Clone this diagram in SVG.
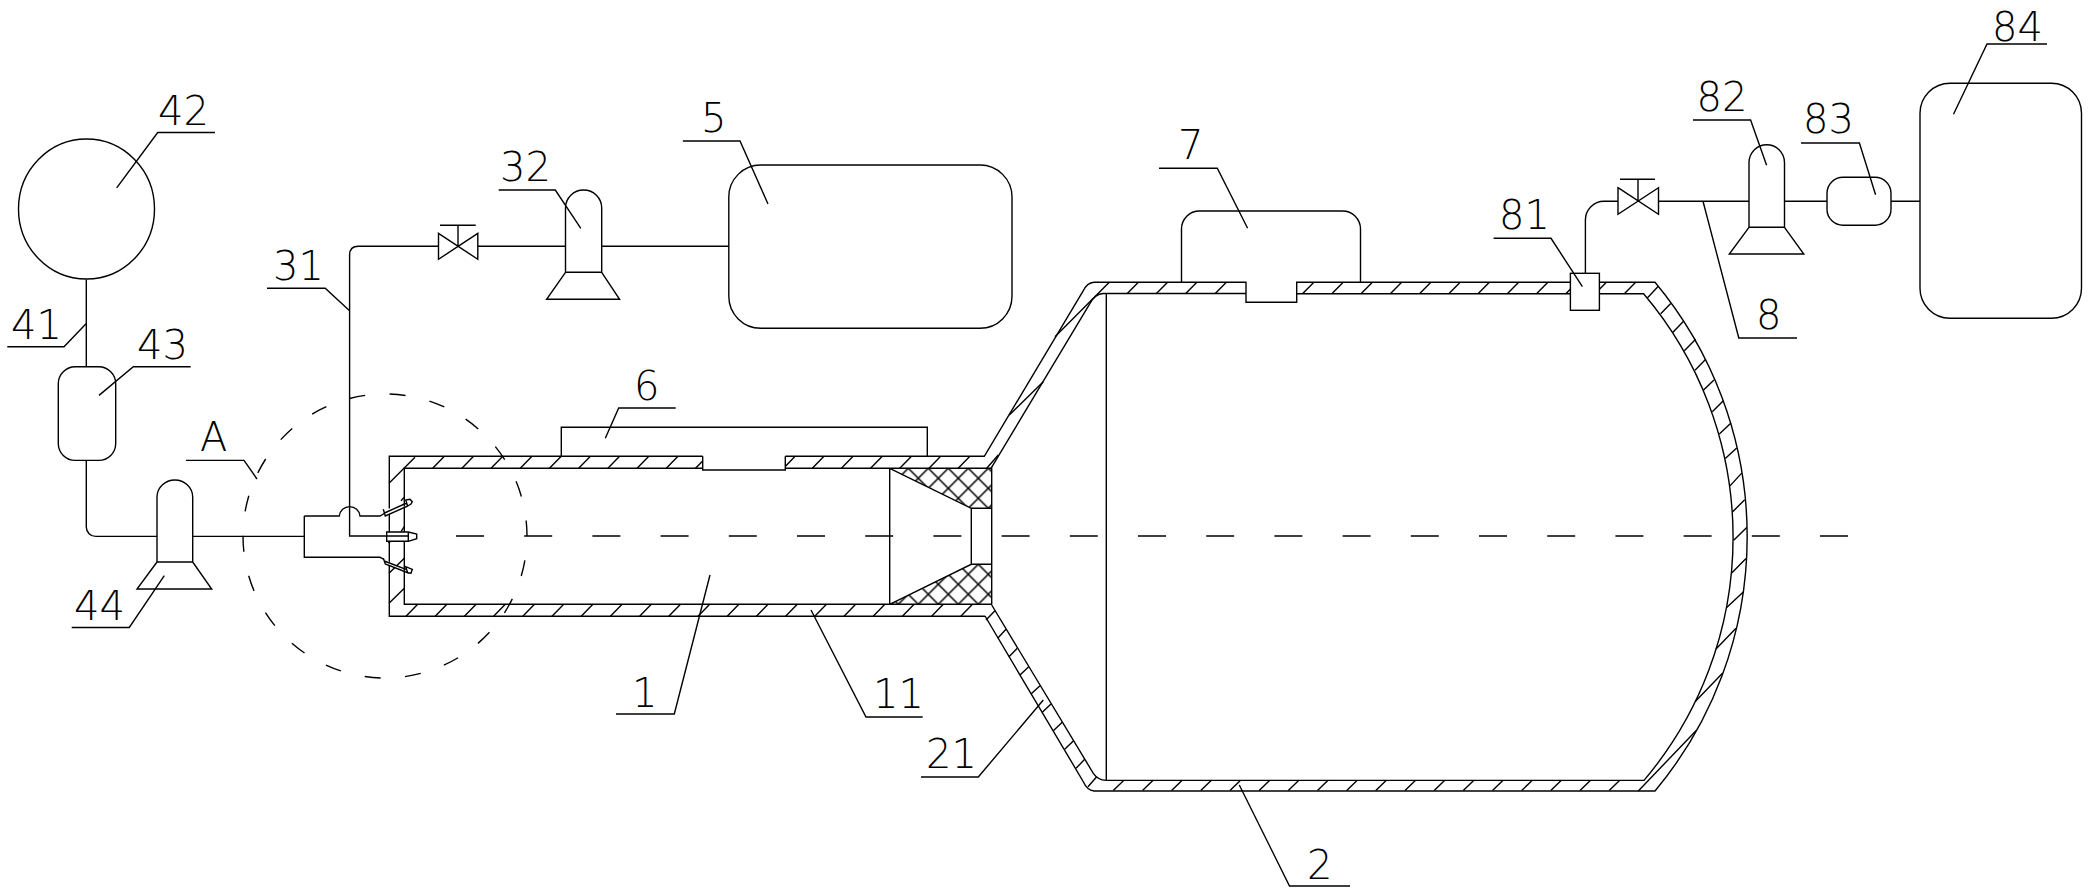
<svg xmlns="http://www.w3.org/2000/svg" width="2091" height="895" viewBox="0 0 2091 895">
<defs>
<style>
.l{fill:none;stroke:#000;stroke-width:1.4}
.n{fill:#fff;stroke:#000;stroke-width:1.4}
.t{font-family:"DejaVu Sans","Liberation Sans",sans-serif;font-weight:200;font-size:40px;fill:#000}
</style>
<pattern id="xa" patternUnits="userSpaceOnUse" x="928.3" y="468.3" width="20" height="20"><path d="M0,0L20,20M20,0L0,20" fill="none" stroke="#000" stroke-width="1.5"/></pattern>
<pattern id="xb" patternUnits="userSpaceOnUse" x="938.3" y="604.3" width="20" height="20"><path d="M0,0L20,20M20,0L0,20" fill="none" stroke="#000" stroke-width="1.5"/></pattern>
</defs>
<rect width="2091" height="895" fill="#fff"/>
<g id="chamber-1">
<path class="l" d="M702.7,456.3H389.3V616.3H985M785.3,456.3H984.3L1083.3,290.7Q1087,283 1094,282.3M702.7,456.3V470H785.3V456.3"/>
<path class="l" d="M702.7,468.3H404.3V604.3H991.7M785.3,468.3H991.7V604.7M889.7,468.3V604.3M971.3,508.3V564.3M889.7,468.3L971.3,508.3H991.7M889.7,604.3L971.3,564.3H991.7"/>
<path fill="url(#xa)" stroke="none" d="M889.7,468.3L971.3,508.3H991.7V468.3Z"/>
<path fill="url(#xb)" stroke="none" d="M889.7,604.3L971.3,564.3H991.7V604.3Z"/>
<path class="l" d="M432.7,468.3l11.7,-12M461.9,468.3l11.7,-12M491.1,468.3l11.7,-12M520.3,468.3l11.7,-12M549.5,468.3l11.7,-12M578.7,468.3l11.7,-12M607.9,468.3l11.7,-12M637.1,468.3l11.7,-12M666.3,468.3l11.7,-12M695.5,468.3l7.2,-7.4M785.3,466.5l9.8,-10.2M812.3,468.3l11.7,-12M841.4,468.3l11.7,-12M870.6,468.3l11.7,-12M899.8,468.3l11.7,-12M929,468.3l11.7,-12M958.2,468.3l11.7,-12"/>
<path class="l" d="M406,616.3l11.7,-12M435.2,616.3l11.7,-12M464.4,616.3l11.7,-12M493.6,616.3l11.7,-12M522.8,616.3l11.7,-12M552,616.3l11.7,-12M581.2,616.3l11.7,-12M610.4,616.3l11.7,-12M639.6,616.3l11.7,-12M668.8,616.3l11.7,-12M698,616.3l11.7,-12M727.2,616.3l11.7,-12M756.4,616.3l11.7,-12M785.6,616.3l11.7,-12M814.8,616.3l11.7,-12M844,616.3l11.7,-12M873.2,616.3l11.7,-12M902.4,616.3l11.7,-12M931.6,616.3l11.7,-12M960.8,616.3l11.7,-12"/>
<path class="l" d="M389,483.3L415,457.3M389,573.3L404.3,558.3M389,603.3L404.3,588.3M388.3,543L391.7,540.7M401,531.7L404.3,526.7M401,500.7L404.3,497.3M986.7,468.3L998.3,455"/>
</g>
<g id="vessel-2">
<path class="l" d="M1094,282.3H1246V302.3H1296.7V282.3H1655A397,397 0 0 1 1655,791H1094Q1087,790 1083.3,781.7L985,616"/>
<path class="l" d="M991,468.3L1090,303.3Q1095,294 1103.3,293.5H1246M1296.7,293.7H1643.6A376.3,376.3 0 0 1 1644,780.4H1106Q1098,780 1093.3,773.3L991.7,605M1106.3,293.5V780"/>
<path class="l" d="M1127,293.7l11.4,-11.4M1156.2,293.7l11.4,-11.4M1185.5,293.7l11.4,-11.4M1215,293.7l11.4,-11.4M1302.5,293.7l11.4,-11.4M1331.8,293.7l11.4,-11.4M1361,293.7l11.4,-11.4M1390.3,293.7l11.4,-11.4M1419.5,293.7l11.4,-11.4M1448.8,293.7l11.4,-11.4M1478,293.7l11.4,-11.4M1507.3,293.7l11.4,-11.4M1536.5,293.7l11.4,-11.4M1565.8,293.7l11.4,-11.4M1595,293.7l11.4,-11.4M1624.3,293.7l11.4,-11.4"/>
<path class="l" d="M1009.3,415L1043.3,381.7M1055,336.7L1109.3,282.3"/>
<path class="l" d="M986,620L995,610.7M997.7,638.3L1006,629.3M1009,656.7L1017.3,648.3M1020,675L1028.7,666.7M1031,694L1040,685.7M1042.3,712.3L1051,704M1053.3,730.7L1062.3,722.3M1064.7,749.3L1073.3,741M1076,768.3L1084.7,759.3M1088,786.7L1096.7,776.7"/>
<path class="l" d="M1113.3,790.6l10.6,-10.4M1142.5,790.6l10.6,-10.4M1171.6,790.6l10.6,-10.4M1200.8,790.6l10.6,-10.4M1230,790.6l10.6,-10.4M1259.2,790.6l10.6,-10.4M1288.3,790.6l10.6,-10.4M1317.5,790.6l10.6,-10.4M1346.7,790.6l10.6,-10.4M1375.8,790.6l10.6,-10.4M1405,790.6l10.6,-10.4M1434.2,790.6l10.6,-10.4M1463.3,790.6l10.6,-10.4M1492.5,790.6l10.6,-10.4M1521.7,790.6l10.6,-10.4M1550.8,790.6l10.6,-10.4M1580,790.6l10.6,-10.4M1609.2,790.6l10.6,-10.4"/>
<path class="l" d="M1647.3,297.9L1658.3,286.2M1660.7,313.8L1670.7,303.4M1672.7,332.4L1683.3,321.4M1684.3,350.7L1695.7,339.3M1695,370.3L1705.7,359.3M1703.3,390.3L1714,380M1712.3,411.7L1723.3,400.7M1719.3,434.1L1731,423.1M1725.3,458.6L1736.7,447.9M1730,485.9L1741.7,473.1M1732.7,511.7L1744.7,499.7M1733.7,540.3L1746.7,527.6M1731.7,573.1L1746,558.6M1726.7,607.6L1743.3,592.1M1716,649L1736,628.3M1695.3,701.4L1722.7,673.1M1638.3,791L1696.7,730"/>
</g>
<g id="node-6"><path class="l" d="M561.3,456.3V427.3H927.3V456.3"/></g>
<g id="node-7"><path class="l" d="M1181.5,282.3V229A18,18 0 0 1 1199.5,211H1342.5A18,18 0 0 1 1360.5,229V282.3"/></g>
<g id="node-5"><rect class="n" x="728.8" y="165" width="283.2" height="163.3" rx="32" ry="32"/></g>
<g id="node-32"><path class="n" d="M565.5,272.3V208A18.1,18 0 0 1 601.7,208V272.3ZM565.5,272.3L546.6,299.3H619.6L601.7,272.3"/></g>
<g id="node-42"><ellipse class="n" cx="86.5" cy="209" rx="68" ry="70"/></g>
<g id="node-43"><rect class="n" x="58.3" y="366.8" width="57.4" height="93.6" rx="17" ry="17"/></g>
<g id="node-44"><path class="n" d="M157,562V497A17.85,17 0 0 1 192.7,497V562ZM157,562L137,589H211.7L192.7,562"/></g>
<g id="node-81"><rect class="n" x="1570.4" y="273.3" width="29" height="37"/></g>
<g id="node-82"><path class="n" d="M1749,227.3V162.5A17.75,17.8 0 0 1 1784.5,162.5V227.3ZM1749,227.3L1729.3,254H1803.8L1784.5,227.3"/></g>
<g id="node-83"><rect class="n" x="1827" y="177.3" width="64" height="48" rx="16" ry="16"/></g>
<g id="node-84"><rect class="n" x="1920" y="83.3" width="161.5" height="235" rx="30" ry="30"/></g>
<g id="injector">
<path class="n" d="M304.3,516V557.3H380L385,560M304.3,516H339.3A10.4,10.4 0 0 1 360,516H380L385,513"/>
<path class="n" d="M383.3,509.3L385.3,516L407.7,506L405.7,500L410,499.3L412.3,501.7L411,504L407.7,506M384.5,513L406.7,503"/>
<path class="n" d="M383.3,558.3L385.3,564L407.7,572.7L405.7,566.7L412.3,569.3L411,573.3L407.7,572.7M384.3,561L406.7,569.7"/>
<path class="n" d="M386.7,532H408.3L416.7,534V538.7L408.3,541.3H386.7ZM408.3,532V541.3"/>
</g>
<g id="connectors">
<path class="l" d="M86.3,279.5V366.8M86.3,460.4V527A9.4,9.4 0 0 0 95.7,536.4H157M192.7,536.4H304.3"/>
<path class="l" d="M408.3,536H349.6V255Q349.6,246.3 358.4,246.3H438.5M477.8,246.3H565.5M601.7,246.3H728.8"/>
<path class="l" d="M1585.4,273.3V220A18.6,18.7 0 0 1 1604,201.3H1618M1658.5,201.3H1749M1784.5,201.3H1827M1891,201.3H1920"/>
<g id="valve-31"><path class="l" d="M438.5,233.3L477.8,259.3V233.3L438.5,259.3ZM458,246.3V225.3M440,225.3H475.7"/></g>
<g id="valve-81"><path class="l" d="M1618,187.7L1658.5,214.3V187.7L1618,214.3ZM1638,201V179.3M1620,179.3H1655"/></g>
<path class="l" d="M116.7,187.9L157.7,132.5H215M7.3,346.8H64L86.3,323.6M99,395.4L133.3,366.8H190.7M164.3,575.7L129.3,627.5H71.7M186,460.4H244L257,479"/>
<path class="l" d="M267,288.3H325.2L349.6,310.7M498.7,190H555.3L580.8,228.3M682.9,141H740L768,204M605.3,438.3L618.7,408H675.7"/>
<path class="l" d="M616,714H674.3L710,575M811,610L866,717H922.7M921,777H978.3L1043.3,700M1239.3,785L1289.5,886H1350"/>
<path class="l" d="M1159,168.3H1217.3L1247.6,228.3M1493.6,238.3H1551L1582.4,286.7M1693,120H1750.6L1766.6,165.3M1801,143H1859.4L1875.6,194.7M1703,201.3L1738.8,338H1797M2047,44H1987L1953.5,114.3"/>
</g>
<g id="detail-A"><circle class="l" cx="385" cy="536" r="142" stroke-dasharray="16 24.56" stroke-dashoffset="16"/></g>
<g id="axis"><path class="l" d="M456,536H1852" stroke-dasharray="28 40.2"/></g>
<g id="labels">
<text class="t" x="158" y="124.5">42</text>
<text class="t" x="11" y="338.5">41</text>
<text class="t" x="137" y="359">43</text>
<text class="t" x="200" y="451.4">A</text>
<text class="t" x="74" y="620">44</text>
<text class="t" x="273" y="279.5">31</text>
<text class="t" x="500" y="181">32</text>
<text class="t" x="701" y="132">5</text>
<text class="t" x="634" y="399.5">6</text>
<text class="t" x="1178" y="159.3">7</text>
<text class="t" x="1499" y="229.3">81</text>
<text class="t" x="1696.5" y="110.7">82</text>
<text class="t" x="1803" y="133.3">83</text>
<text class="t" x="1992" y="40.5">84</text>
<text class="t" x="1756" y="329.3">8</text>
<text class="t" x="632" y="706.7">1</text>
<text class="t" x="873" y="707.7">11</text>
<text class="t" x="926" y="767.7">21</text>
<text class="t" x="1307" y="879">2</text>
</g>
</svg>
